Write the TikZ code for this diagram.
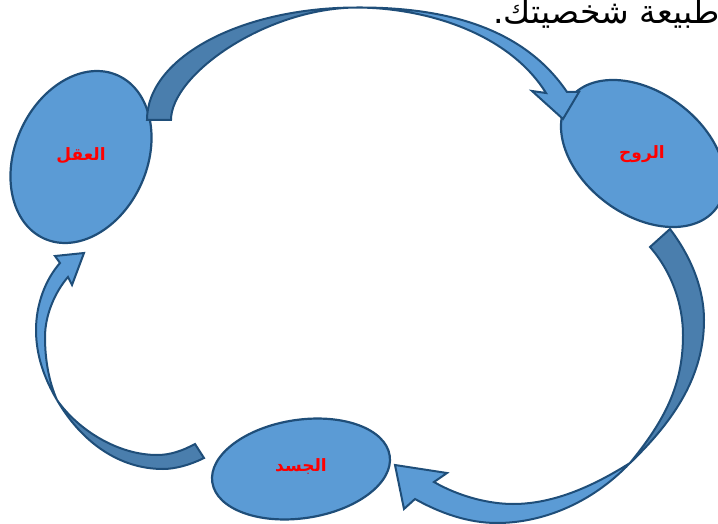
\documentclass[tikz,border=0pt]{standalone}
\usepackage{fontspec}
\usetikzlibrary{shapes.geometric}
\TeXXeTstate=1
\newfontfamily\arabicfont[Script=Arabic]{DejaVu Sans}
\definecolor{blobfill}{HTML}{5B9BD5}
\definecolor{blobline}{HTML}{1F4E79}
\definecolor{darkfill}{HTML}{4A7EAD}
\tikzset{
  blob/.style={ellipse,draw=blobline,fill=blobfill,line width=2.2pt,inner sep=0pt},
  lightarrow/.style={draw=blobline,fill=blobfill,line width=2pt,line join=miter},
  darkarrow/.style={draw=blobline,fill=darkfill,line width=2pt,line join=miter},
  lbl/.style={text=red,font=\arabicfont\bfseries\fontsize{17}{20}\selectfont,inner sep=0pt},
  toptext/.style={text=black,font=\arabicfont\fontsize{33}{40}\selectfont,inner sep=0pt,anchor=base west}
}
\begin{document}
\begin{tikzpicture}[x=1pt,y=-1pt]
\useasboundingbox (0,0) rectangle (718,524);
\clip (0,0) rectangle (718,524);
\node[toptext] (top) at (493,24) {\beginR طبيعة شخصيتك.\endR};
% ellipses
\node[blob,minimum width=179pt,minimum height=132pt,rotate=65.7] (mind) at (81,157) {};
\node[blob,minimum width=183pt,minimum height=122.6pt,rotate=-36.7] (spirit) at (643,153.5) {};
\node[blob,minimum width=179.4pt,minimum height=98.4pt,rotate=8.6] (body) at (301,469) {};
% top arrow
\draw[lightarrow] (357,7.5) .. controls (450,7) and (525,30) .. (567,92)
  -- (579,92) -- (563,119) -- (532,91) -- (546,93)
  .. controls (510,35) and (430,8) .. (357,7.5) -- cycle;
\draw[darkarrow] (147,120) .. controls (147,57.6) and (241,7.5) .. (357,7.5)
  .. controls (265,8) and (171,75) .. (171,120) -- cycle;
% right arrow
\draw[lightarrow] (630,463) .. controls (590,505) and (540,523) .. (497,523)
  .. controls (468,523) and (440,513) .. (415,499)
  -- (404,509) -- (395,465) -- (447,473) -- (434,482)
  .. controls (460,497) and (490,504) .. (513,504)
  .. controls (555,504) and (595,485) .. (630,463) -- cycle;
\draw[darkarrow] (670,229) .. controls (692,258) and (704,290) .. (704,320)
  .. controls (704,375) and (675,420) .. (630,463)
  .. controls (665,420) and (683,385) .. (683,335)
  .. controls (683,305) and (672,272) .. (650,247) -- cycle;
% left arrow
\draw[lightarrow] (57,400) .. controls (44,378) and (36,355) .. (36,330)
  .. controls (36,305) and (45,280) .. (60,263)
  -- (55,256) -- (84,253) -- (72,285) -- (68,277)
  .. controls (55,292) and (45,315) .. (45,337)
  .. controls (45,360) and (49,382) .. (57,400) -- cycle;
\draw[darkarrow] (204,458) .. controls (190,465) and (175,469) .. (163,469)
  .. controls (120,469) and (82,443) .. (57,400)
  .. controls (78,430) and (118,455) .. (157,455)
  .. controls (170,455) and (182,451) .. (195,444) -- cycle;
% labels
\node[lbl] (mindlabel) at (81,156) {\beginR العقل\endR};
\node[lbl] (spiritlabel) at (642,154) {\beginR الروح\endR};
\node[lbl] (bodylabel) at (301,467) {\beginR الجسد\endR};
\end{tikzpicture}
\end{document}
